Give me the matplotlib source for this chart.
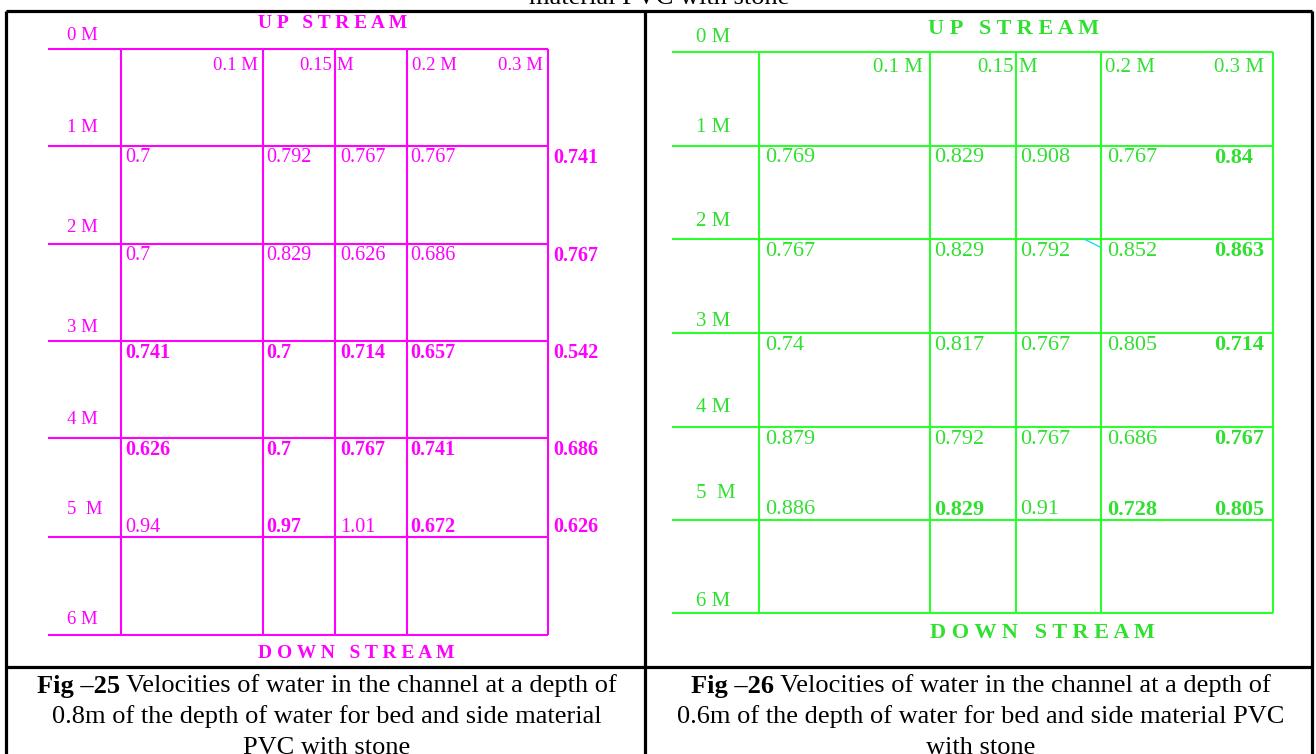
import matplotlib
matplotlib.use('Agg')
import matplotlib.pyplot as plt

# ---- data ----
row_labels = ['0 M', '1 M', '2 M', '3 M', '4 M', '5  M', '6 M']
col_labels = ['0.1 M', '0.15 M', '0.2 M', '0.3 M']

# Fig 25: depth 0.8 (rows 1..5 M, columns left wall .. 0.3 M)
vel_25 = [
    ['0.7', '0.792', '0.767', '0.767', '0.741'],
    ['0.7', '0.829', '0.626', '0.686', '0.767'],
    ['0.741', '0.7', '0.714', '0.657', '0.542'],
    ['0.626', '0.7', '0.767', '0.741', '0.686'],
    ['0.94', '0.97', '1.01', '0.672', '0.626'],
]
bold_25 = [
    [0, 0, 0, 0, 1],
    [0, 0, 0, 0, 1],
    [1, 1, 1, 1, 1],
    [1, 1, 1, 1, 1],
    [0, 1, 0, 1, 1],
]

# Fig 26: depth 0.6
vel_26 = [
    ['0.769', '0.829', '0.908', '0.767', '0.84'],
    ['0.767', '0.829', '0.792', '0.852', '0.863'],
    ['0.74', '0.817', '0.767', '0.805', '0.714'],
    ['0.879', '0.792', '0.767', '0.686', '0.767'],
    ['0.886', '0.829', '0.91', '0.728', '0.805'],
]
bold_26 = [
    [0, 0, 0, 0, 1],
    [0, 0, 0, 0, 1],
    [0, 0, 0, 0, 1],
    [0, 0, 0, 0, 1],
    [0, 1, 0, 1, 1],
]

cap_25 = ['Fig \u201325', ' Velocities of water in the channel at a depth of',
          '0.8m of the depth of water for bed and side material',
          'PVC with stone']
cap_26 = ['Fig \u201326', ' Velocities of water in the channel at a depth of',
          '0.6m of the depth of water for bed and side material PVC',
          'with stone']

# ---- layout (pixels of the 1316x754 page) ----
panels = [
    dict(vel=vel_25, bold=bold_25, cap=cap_25, color='#ff00ff', txt='#ff00ff',
         hy=[49, 146, 244, 341, 438, 537, 635], hx=(48, 548),
         vx=[121, 263, 335, 407, 548],
         lab_x=67, lab_y=[35, 128, 227, 328, 419, 510, 620],
         val_x=[125, 266, 340, 410, 553],
         col_pos=[(258, 'right'), (332, 'right'), (412, 'left'), (543, 'right')],
         col_y=65, up=(333, 24), down=(356, 654), fs=14.5, hfs=14,
         cap_x=327),
    dict(vel=vel_26, bold=bold_26, cap=cap_26, color='#2bff2b', txt='#30e030',
         hy=[52, 146, 239, 333, 427, 520, 613], hx=(672, 1273),
         vx=[759, 930, 1016, 1101, 1273],
         lab_x=696, lab_y=[38, 128, 222, 322, 407, 494, 602],
         val_x=[765, 934, 1020, 1107, 1214],
         col_pos=[(923, 'right'), (1014, 'right'), (1105, 'left'), (1264, 'right')],
         col_y=67, up=(1014, 29), down=(1042, 633), fs=16, hfs=16,
         cap_x=981),
]

serif = 'Liberation Serif'
fig = plt.figure(figsize=(13.16, 7.54), dpi=100)
ax = fig.add_axes([0, 0, 1, 1])
ax.set_xlim(0, 1316)
ax.set_ylim(754, 0)
ax.axis('off')

# page table borders
ax.hlines([11, 667], 6, 1312, color='black', lw=2.3)
ax.vlines([6, 645, 1312], 11, 754, color='black', lw=2.3)
ax.text(659, 4, 'material PVC with stone', family=serif, fontsize=19,
        ha='center', va='baseline')

for p in panels:
    c = p['color']
    ax.hlines(p['hy'], p['hx'][0], p['hx'][1], color=c, lw=1.5)
    ax.vlines(p['vx'], p['hy'][0], p['hy'][-1], color=c, lw=1.5)

    ax.text(p['up'][0], p['up'][1], 'U P   S T R E A M', family=serif,
            fontsize=p['hfs'], weight='bold', color=p['txt'], ha='center', va='center')
    ax.text(p['down'][0], p['down'][1], 'D O W N   S T R E A M', family=serif,
            fontsize=p['hfs'], weight='bold', color=p['txt'], ha='center', va='center')

    for lab, y in zip(row_labels, p['lab_y']):
        ax.text(p['lab_x'], y, lab, family=serif, fontsize=p['fs'] - 1,
                color=p['txt'], ha='left', va='center')

    for lab, (x, ha) in zip(col_labels, p['col_pos']):
        if lab == '0.15 M':
            ax.text(x, p['col_y'], '0.15', family=serif, fontsize=p['fs'] - 1,
                    color=p['txt'], ha='right', va='center')
            ax.text(x + 4, p['col_y'], 'M', family=serif, fontsize=p['fs'] - 1,
                    color=p['txt'], ha='left', va='center')
        else:
            ax.text(x, p['col_y'], lab, family=serif, fontsize=p['fs'] - 1,
                    color=p['txt'], ha=ha, va='center')

    for r, row in enumerate(p['vel']):
        y = p['hy'][r + 1] + 12 if r < 4 else p['hy'][5] - 10
        for k, v in enumerate(row):
            ax.text(p['val_x'][k], y, v, family=serif, fontsize=p['fs'],
                    weight='bold' if p['bold'][r][k] else 'normal',
                    color=p['txt'], ha='left', va='center')

# small stray stroke in Fig 26
ax.plot([1084, 1100], [239, 247], color='#19d9ff', lw=1)

# captions: bold figure number followed by normal text, centred
renderer = fig.canvas.get_renderer()
for p in panels:
    cap = p['cap']
    y0 = 686
    tb = ax.text(0, y0, cap[0], family=serif, fontsize=19, weight='bold',
                 ha='left', va='center')
    tr = ax.text(0, y0, cap[1], family=serif, fontsize=19, ha='left', va='center')
    wb = tb.get_window_extent(renderer).width
    wr = tr.get_window_extent(renderer).width
    x0 = p['cap_x'] - (wb + wr) / 2
    tb.set_x(x0)
    tr.set_x(x0 + wb)
    for i, line in enumerate(cap[2:]):
        ax.text(p['cap_x'], y0 + 31 * (i + 1), line, family=serif, fontsize=19,
                ha='center', va='center')

fig.savefig('out.png', dpi=100)
